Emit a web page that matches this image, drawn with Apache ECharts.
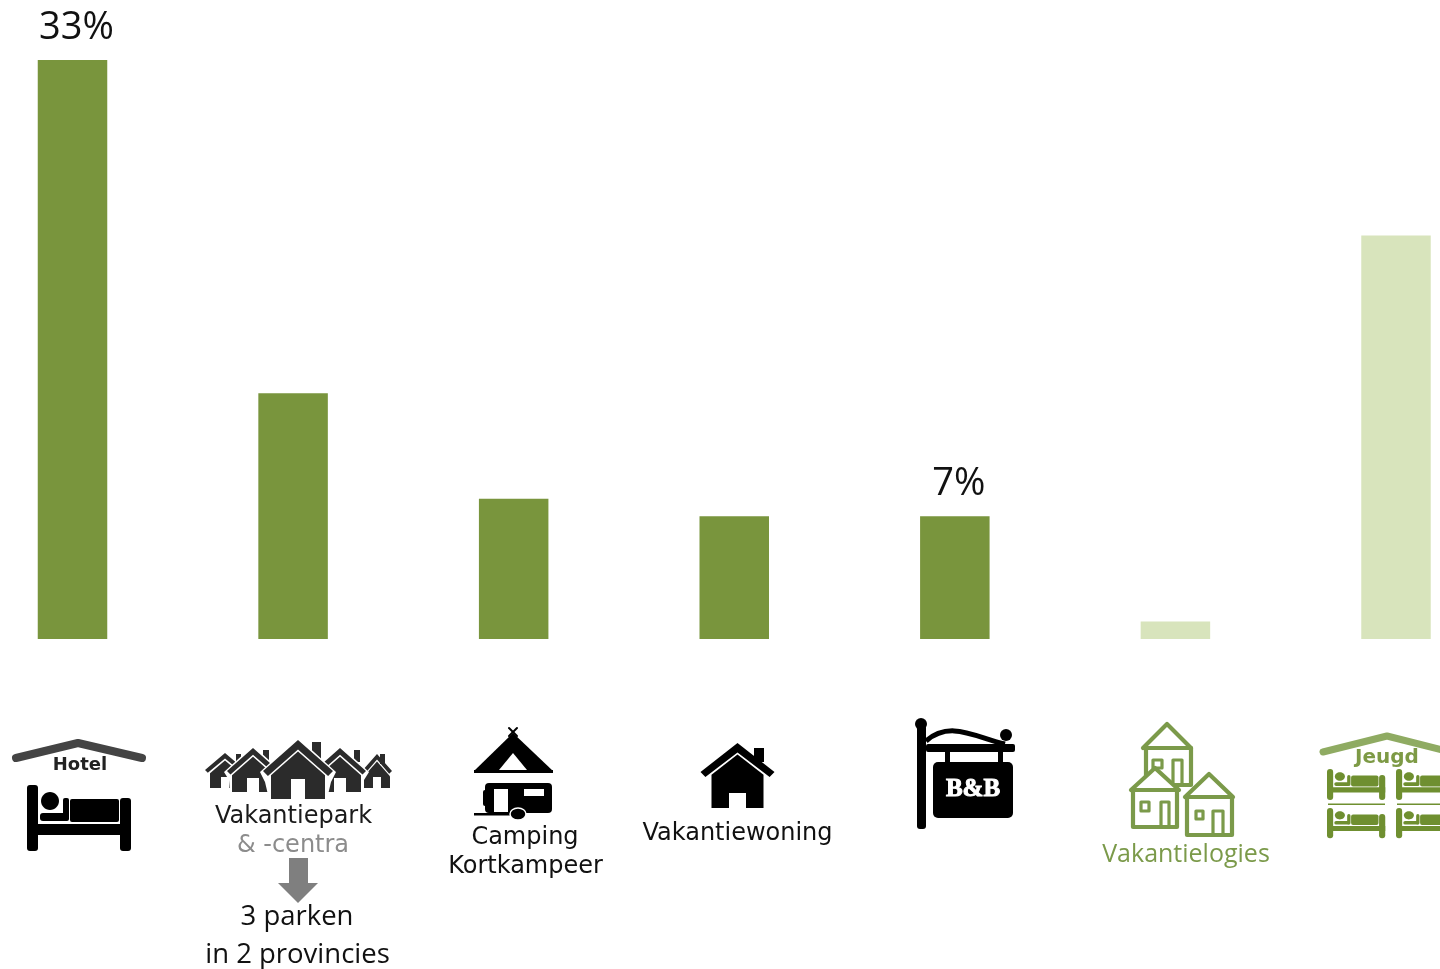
<!DOCTYPE html>
<html><head><meta charset="utf-8">
<script src="https://cdn.jsdelivr.net/npm/echarts@6/dist/echarts.min.js"></script>
<style>html,body{margin:0;padding:0;background:#fff}#c{width:1440px;height:969px}</style>
</head><body><div id="c"></div>
<script>
const categories = ['Hotel','Vakantiepark','Camping','Vakantiewoning','B&B','Vakantielogies','Jeugd'];
const values = [33,14,8,7,7,1,23];
const valueLabels = ['33%','','','','7%','',''];
const barColors = ['#79953D','#79953D','#79953D','#79953D','#79953D','#D8E4BC','#D8E4BC'];

const DARK='#000', GREEN='#7B9A4A', BED='#6F8F30', SANS='"DejaVu Sans"', OPEN='"Open Sans"';
const G=[];
const rect=(x,y,w,h,fill,r)=>G.push({type:'rect',shape:{x,y,width:w,height:h,r:r||0},style:{fill},silent:true});
const poly=(pts,fill)=>G.push({type:'polygon',shape:{points:pts},style:{fill},silent:true});
const line=(pts,stroke,lw,fill)=>G.push({type:'polyline',shape:{points:pts},style:{stroke,lineWidth:lw,fill:fill||'none',lineCap:'round',lineJoin:'round'},silent:true});
const circ=(cx,cy,r,fill)=>G.push({type:'circle',shape:{cx,cy,r},style:{fill},silent:true});
const ell=(cx,cy,rx,ry,fill,stroke,lw)=>G.push({type:'ellipse',shape:{cx,cy,rx,ry},style:{fill,stroke:stroke||null,lineWidth:lw||0},silent:true});
const txt=(text,x,y,font,fill,extra)=>G.push({type:'text',x,y,silent:true,style:Object.assign({text,font,fill:fill||'#111',align:'center',verticalAlign:'middle'},extra||{})});

function bed(x,y,sx,sy,c){
  const R=(a,b,w,h,r)=>rect(x+a*sx,y+b*sy,w*sx,h*sy,c,r);
  R(0,0,11,66,3); R(93,13,11,53,3); R(0,39,104,11);
  R(43,14,49,23,2); R(13,28,28,8,3); R(36,13,6,23,2);
  ell(x+23*sx,y+16*sy,9*sx,9*sy,c);
}
function house(o){
  const {cx,top,hw,eave,bh,bottom,dh,dt,c,t}=o;
  if(o.ch) rect(o.ch[0],o.ch[1],o.ch[2],o.ch[3],c);
  const k=t*1.35, slope=(eave-top)/hw;
  if(o.halo) poly([[cx,top-2.5],[cx+hw+3,eave+1],[cx+hw-2,eave+t+4],[cx+bh+2,bottom],[cx-bh-2,bottom],[cx-hw+2,eave+t+4],[cx-hw-3,eave+1]],'#fff');
  poly([[cx,top],[cx+hw,eave],[cx+hw-t*0.7,eave+t*0.7],[cx,top+k],[cx-hw+t*0.7,eave+t*0.7],[cx-hw,eave]],c);
  const g=k+2, y0=top+g, edge=y0+bh*slope;
  poly([[cx,y0],[cx+bh,edge],[cx+bh,bottom],[cx-bh,bottom],[cx-bh,edge]],c);
  rect(cx-dh,dt,dh*2,bottom-dt,'#fff');
}
function outlineHouse(apex,eaveY,hw,bl,br,bottom,win,door){
  const cx=apex[0];
  poly([[cx,apex[1]],[cx+hw,eaveY],[br,eaveY],[br,bottom],[bl,bottom],[bl,eaveY],[cx-hw,eaveY]],'#fff');
  line([[cx-hw,eaveY],[cx,apex[1]],[cx+hw,eaveY],[cx-hw,eaveY]],GREEN,4.2);
  line([[bl,eaveY],[bl,bottom],[br,bottom],[br,eaveY]],GREEN,4.2);
  line([[win[0],win[1]],[win[2],win[1]],[win[2],win[3]],[win[0],win[3]],[win[0],win[1]]],GREEN,3.2);
  line([[door[0],door[3]],[door[0],door[1]],[door[2],door[1]],[door[2],door[3]]],GREEN,3.2);
}

/* Hotel */
line([[16,758],[78,743],[142,758]],'#444',8);
txt('Hotel',80,765,'bold 18px '+SANS,'#222');
bed(27,785,1,1,DARK);

/* Vakantiepark */
const PK='#2b2b2b';
house({cx:225,top:753,hw:20,eave:770,bh:15,bottom:788,dh:4,dt:777,c:PK,t:4,ch:[236,754,5,10]});
house({cx:377,top:754,hw:15,eave:771,bh:13,bottom:788,dh:4,dt:777,c:PK,t:4,ch:[380,754,5,10]});
house({cx:253,top:748,hw:26,eave:771,bh:21,bottom:792,dh:6,dt:778,c:PK,t:5,halo:1,ch:[263,750,6,12]});
house({cx:340,top:748,hw:26,eave:771,bh:21,bottom:792,dh:6,dt:778,c:PK,t:5,halo:1,ch:[354,750,6,12]});
house({cx:298,top:740,hw:35,eave:771,bh:27,bottom:799,dh:7,dt:779,c:PK,t:7,halo:1,ch:[312,742,9,18]});
txt('Vakantiepark',293.5,817,'24px '+SANS,'#1a1a1a');
txt('& -centra',293,846,'24px '+SANS,'#8c8c8c');
poly([[289,858],[308,858],[308,883],[318,883],[298,903],[278,883],[289,883]],'#7f7f7f');
txt('3 parken',297,917,'27.5px '+OPEN,'#111');
txt('in 2 provincies',297.5,955,'27.5px '+OPEN,'#111');

/* Camping */
line([[509,728],[517,736]],DARK,2); line([[517,728],[509,736]],DARK,2);
poly([[513,733],[553,771],[474,771]],DARK);
poly([[513,753],[527,770],[499,770]],'#fff');
rect(474,770,79,3,DARK);
rect(485,783,67,30,DARK,4);
rect(483,790,4,16,DARK,2);
rect(494,789,14,23,'#fff');
rect(524,789,20,7,'#fff');
rect(474,813,40,2.5,DARK);
ell(518,814,8,6,DARK,'#fff',1.5);
txt('Camping',525,838,'24px '+SANS,'#111');
txt('Kortkampeer',525.5,867,'24px '+SANS,'#111');

/* Vakantiewoning */
house({cx:737.5,top:743,hw:37,eave:772,bh:26,bottom:808,dh:8.5,dt:793,c:DARK,t:7,ch:[754,748,10,14]});
txt('Vakantiewoning',737.5,834,'24px '+SANS,'#111');

/* B&B */
rect(917,725,9,104,DARK,3);
circ(921,724,6,DARK);
G.push({type:'bezierCurve',shape:{x1:926,y1:741,x2:1005,y2:744,cpx1:950,cpy1:720,cpx2:975,cpy2:737},style:{stroke:DARK,lineWidth:5,fill:'none'},silent:true});
rect(926,744,89,8,DARK,2);
circ(1006,735,6,DARK);
rect(945,752,5,11,DARK); rect(998,752,5,11,DARK);
rect(933,762,80,56,DARK,5);
txt('B&B',973,790,'bold 25px "Liberation Serif"','#fff',{stroke:'#fff',lineWidth:1});

/* Vakantielogies */
outlineHouse([1167,724],748,24,1146,1191,785,[1153,760,1162,768],[1173,760,1182,785]);
outlineHouse([1155,768],790,24,1133,1177,827,[1141,802,1149,811],[1161,802,1169,827]);
outlineHouse([1209,774],797,24,1187,1232,835,[1196,811,1203,819],[1213,811,1223,835]);
txt('Vakantielogies',1186,855,'25px '+OPEN,GREEN);

/* Jeugd */
line([[1323,752],[1387,736],[1450,752]],'#8FAB62',7);
txt('Jeugd',1387,757.5,'bold 20px '+SANS,'#7D9A45');
bed(1327,769,.56,.47,BED); bed(1396,769,.56,.47,BED);
rect(1328,803.5,57,1.5,BED); rect(1397,803.5,43,1.5,BED);
bed(1327,808,.56,.46,BED); bed(1396,808,.56,.46,BED);

const chart=echarts.init(document.getElementById('c'),null,{renderer:'canvas'});
chart.setOption({
  animation:false,
  backgroundColor:'#fff',
  grid:{left:72.5,right:44,top:60,bottom:330,containLabel:false},
  xAxis:{type:'category',data:categories,show:false,boundaryGap:false},
  yAxis:{type:'value',min:0,max:33,show:false},
  series:[{
    type:'bar',barWidth:69.5,silent:true,clip:false,
    data:values.map((v,i)=>({value:v,itemStyle:{color:barColors[i]},
      label:{show:!!valueLabels[i],formatter:valueLabels[i]}})),
    label:{position:'top',distance:13,offset:[4,0],fontFamily:OPEN,fontSize:38,color:'#111'}
  }],
  graphic:{elements:G}
});
</script></body></html>
